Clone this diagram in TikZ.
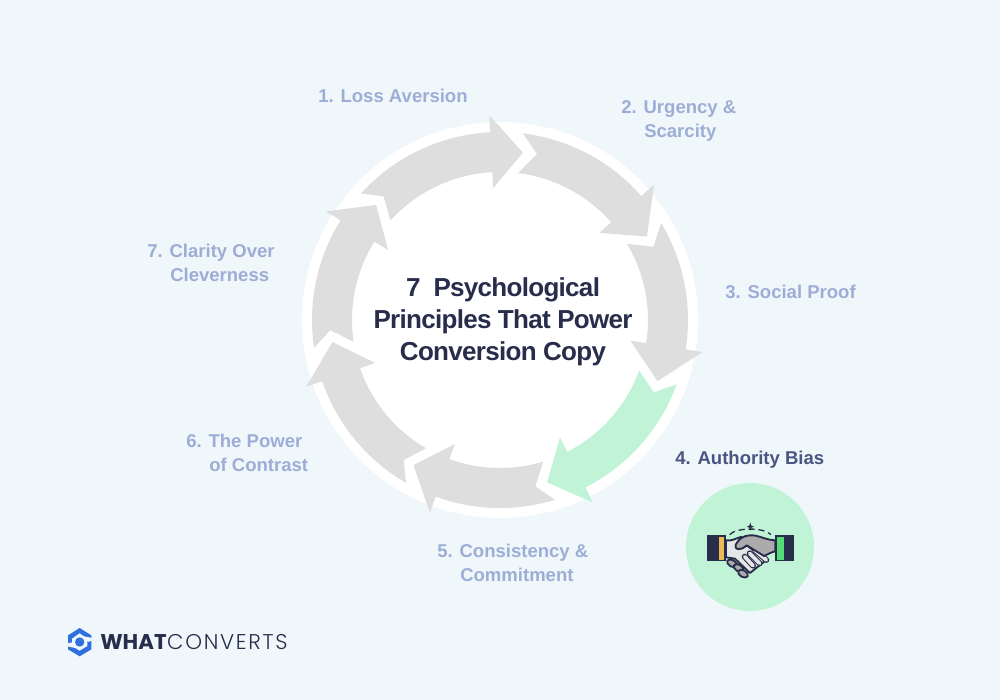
\documentclass[tikz,border=0pt]{standalone}
\usepackage{fontspec}
\setmainfont{Liberation Sans}
\newfontfamily\titlefont[LetterSpace=-2.7]{Liberation Sans}
\newfontfamily\logofont{Poppins}
\newfontfamily\logothin[LetterSpace=8]{Poppins Light}
\definecolor{pagebg}{HTML}{F0F7FB}
\definecolor{ringgrey}{HTML}{DEDEDE}
\definecolor{ringgreen}{HTML}{C1F4D7}
\definecolor{labelblue}{HTML}{9DADD6}
\definecolor{labeldark}{HTML}{4A5580}
\definecolor{titleink}{HTML}{272D4B}
\definecolor{logoblue}{HTML}{2F6FDE}
\definecolor{handgrey}{HTML}{ABABAB}
\definecolor{handlight}{HTML}{E6E6E6}
\definecolor{cuffyellow}{HTML}{EDBB55}
\definecolor{cuffgreen}{HTML}{55DB78}
\newcommand{\hang}{\hspace*{17.25pt}}
\tikzset{
  steplabel/.style={anchor=west, inner sep=0pt, align=left, text=labelblue,
    font=\fontsize{13.9}{18}\selectfont\bfseries},
  handline/.style={draw=titleink, line width=1.4pt, line join=round, line cap=round}
}
\begin{document}
\begin{tikzpicture}[x=.75pt,y=.75pt]
\fill[pagebg] (0,0) rectangle (1000,700);
\useasboundingbox (0,0) rectangle (1000,700);

% ring
\coordinate (cen) at (500,380);
\fill[white] (cen) circle (198);
\foreach \tl/\nt/\nk/\tp/\col in {137.7/133.3/93/82.2/ringgrey, 83/77.4/41.3/29.6/ringgrey,
  31/25.5/-9/-21.2/ringgrey, -20/-25.2/-63/-73.8/ringgreen, -73/-78/-110/-120.8/ringgrey,
  -120/-124.5/-161/-172.5/ringgrey, 188.5/183.4/148/137.1/ringgrey}
  \fill[\col, shift={(cen)}] (\tl:188) arc (\tl:\nk:188) -- (\nk:205) -- (\tp:169)
    -- (\nk:132) -- (\nk:148) arc (\nk:\tl:148) -- (\nt:170) -- cycle;

% title
\node[align=center, inner sep=0pt, text=titleink, font=\fontsize{19.5}{24}\titlefont\bfseries]
  (title) at (503,378) {7\ \ Psychological\\Principles That Power\\Conversion Copy};

% labels
\node[steplabel] (loss) at (318,604) {1. Loss Aversion};
\node[steplabel] (urgency) at (621,579) {2. Urgency \&\\\hang Scarcity};
\node[steplabel] (social) at (725,408) {3. Social Proof};
\node[steplabel, text=labeldark] (authority) at (675,240) {4. Authority Bias};
\node[steplabel] (consistency) at (437,137) {5. Consistency \&\\\hang Commitment};
\node[steplabel] (contrast) at (186,247) {6. The Power\\\hang of Contrast};
\node[steplabel] (clarity) at (147,437) {7. Clarity Over\\\hang Cleverness};

% handshake
\fill[ringgreen] (750,153) circle (64);
\begin{scope}[shift={(700,182)}, x=.25pt, y=-.25pt]
\fill[titleink] (20,50) rectangle (78,130);
\fill[cuffyellow] (57,58) rectangle (71,125);
\fill[titleink] (226,50) rectangle (283,130);
\fill[cuffgreen] (232,58) rectangle (251,126);
\filldraw[handline, fill=handlight] (78,67) .. controls (95,70) and (105,62) .. (125,56)
  -- (107,85) .. controls (108,95) and (120,98) .. (140,82) -- (199,126) -- (150,165) -- (105,122)
  -- (78,118) -- cycle;
\foreach \ax/\ay/\bx/\by in {134/116/159/143, 149/106/179/136, 164/96/199/126}
{
  \draw[titleink, line width=4.4pt, line cap=round] (\ax,\ay) -- (\bx,\by);
  \draw[handlight, line width=2.8pt, line cap=round] (\ax,\ay) -- (\bx,\by);
}
\filldraw[handline, fill=handgrey] (226,67) .. controls (195,66) and (175,50) .. (150,52)
  .. controls (130,52) and (115,65) .. (107,80) .. controls (102,95) and (120,100) .. (140,82)
  -- (192,114) .. controls (205,108) and (215,102) .. (226,100) -- cycle;
\foreach \fx/\fy in {96/136, 116/150, 129/167}
  \filldraw[handline, fill=handgrey, rotate around={-30:(\fx,\fy)}] (\fx,\fy) ellipse (16 and 10);
\draw[titleink, line width=1pt, dash pattern=on 4pt off 3.5pt, line cap=round]
  (90,49) .. controls (110,28) and (190,28) .. (212,49);
\fill[titleink] (151,14) -- (154,23) -- (162,26) -- (154,29) -- (151,38) -- (148,29) -- (140,26) -- (148,23) -- cycle;
\end{scope}

% logo
\begin{scope}[shift={(62,78)}, x=.25pt, y=-.25pt]
\fill[logoblue] (53,18) -- (88,40) -- (88,82) -- (53,103) -- (18,82) -- (18,40) -- cycle;
\fill[pagebg] (53,34) -- (76,50) -- (76,72) -- (53,86) -- (30,72) -- (30,50) -- cycle;
\fill[logoblue] (53,60) circle (14);
\fill[pagebg] (66,43) -- (90,48) -- (90,56) -- (78,60) -- cycle;
\fill[pagebg] (40,78) -- (16,73) -- (16,65) -- (28,61) -- cycle;
\end{scope}
\node[anchor=west, inner sep=0pt, text=titleink, font=\fontsize{16}{18}\logofont\bfseries] (what) at (100,58) {WHAT};
\node[anchor=west, inner sep=0pt, text=titleink, font=\fontsize{16}{18}\logothin] (converts) at (what.east) {CONVERTS};
\end{tikzpicture}
\end{document}
